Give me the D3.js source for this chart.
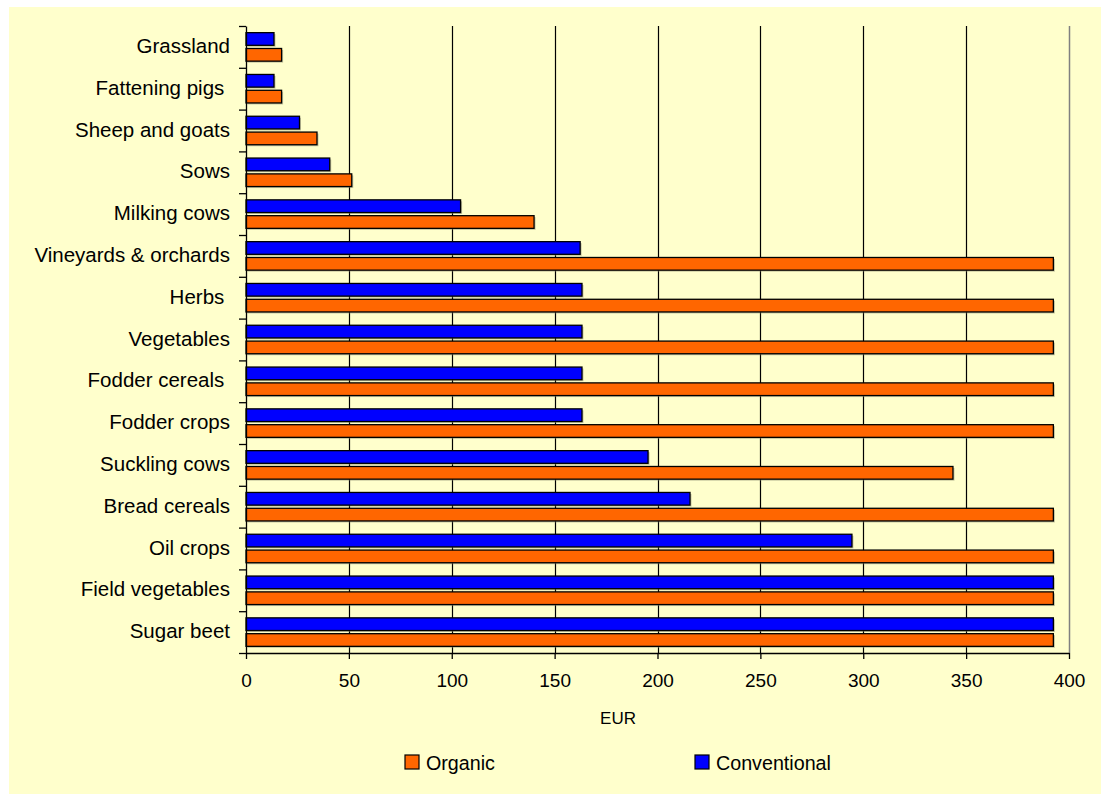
<!DOCTYPE html>
<html>
<head>
<meta charset="utf-8">
<script src="https://cdn.jsdelivr.net/npm/d3@7"></script>
<style>
  html, body { margin: 0; padding: 0; background: #fff; }
  text { font-family: "Liberation Sans", Arial, sans-serif; fill: #000; }
</style>
</head>
<body>
<div id="chart"></div>
<script>
// categories top to bottom (trailing spaces as in the original labels)
const categories = [
  "Grassland", "Fattening pigs ", "Sheep and goats", "Sows", "Milking cows",
  "Vineyards & orchards", "Herbs ", "Vegetables", "Fodder cereals ", "Fodder crops",
  "Suckling cows", "Bread cereals", "Oil crops", "Field vegetables", "Sugar beet"
];
const conventional = [13.6, 13.6, 26, 40.7, 104.3, 162.4, 163.3, 163.3, 163.3, 163.3, 195.4, 215.8, 294.5, 392.4, 392.4];
const organic = [17.3, 17.3, 34.5, 51.4, 140, 392.4, 392.4, 392.4, 392.4, 392.4, 343.6, 392.4, 392.4, 392.4, 392.4];
const xTicks = [0, 50, 100, 150, 200, 250, 300, 350, 400];
const seriesNames = ["Conventional", "Organic"];

const width = 1101, height = 794;
const plot = { left: 246, top: 26, right: 1069, bottom: 653 };

const color = d3.scaleOrdinal()
  .domain(seriesNames)
  .range(["#0000FF", "#FF6600"]);

const svg = d3.select("#chart").append("svg")
  .attr("width", width)
  .attr("height", height);

// chart background
svg.append("rect")
  .attr("x", 9).attr("y", 7)
  .attr("width", width - 9).attr("height", height - 7)
  .attr("fill", "#FFFFCC");

const x = d3.scaleLinear()
  .domain([0, 400])
  .range([plot.left, plot.right]);

const y = d3.scaleBand()
  .domain(categories)
  .range([plot.top, plot.bottom]);

const inner = d3.scaleBand()
  .domain(seriesNames)
  .range([0, y.bandwidth()])
  .paddingInner(0.2)
  .paddingOuter(0.42);

// vertical gridlines
svg.append("g")
  .selectAll("line")
  .data(xTicks.filter(d => d > 0))
  .join("line")
  .attr("x1", d => Math.round(x(d)) + 0.5)
  .attr("x2", d => Math.round(x(d)) + 0.5)
  .attr("y1", plot.top)
  .attr("y2", plot.bottom)
  .attr("stroke", d => d === 400 ? "#808080" : "#000")
  .attr("stroke-width", d => d === 400 ? 1.5 : 1.2);

// bars
const rows = categories.map((c, i) => ({
  cat: c,
  values: [
    { key: "Conventional", value: conventional[i] },
    { key: "Organic", value: organic[i] }
  ]
}));

const groups = svg.append("g")
  .selectAll("g")
  .data(rows)
  .join("g")
  .attr("transform", d => `translate(0,${y(d.cat)})`);

// soft shadow under each bar
groups.selectAll("rect.shadow")
  .data(d => d.values)
  .join("rect")
  .attr("class", "shadow")
  .attr("x", x(0) + 1.5)
  .attr("y", d => inner(d.key) + 1.5)
  .attr("width", d => x(d.value) - x(0))
  .attr("height", inner.bandwidth())
  .attr("fill", "#8a8a70")
  .attr("opacity", 0.5);

groups.selectAll("rect.bar")
  .data(d => d.values)
  .join("rect")
  .attr("class", "bar")
  .attr("x", x(0))
  .attr("y", d => inner(d.key))
  .attr("width", d => x(d.value) - x(0))
  .attr("height", inner.bandwidth())
  .attr("fill", d => color(d.key))
  .attr("stroke", "#000")
  .attr("stroke-width", 1.3);

// left axis: ticks at category boundaries
const yEdges = d3.scaleLinear().domain([0, categories.length]).range([plot.top, plot.bottom]);
svg.append("g")
  .attr("transform", `translate(${plot.left},0)`)
  .call(d3.axisLeft(yEdges).ticks(categories.length).tickSize(7).tickSizeOuter(0).tickFormat(""))
  .call(g => g.selectAll("line, path").attr("stroke", "#000").attr("stroke-width", 1.3));

svg.append("g")
  .selectAll("text")
  .data(categories)
  .join("text")
  .attr("x", plot.left - 16)
  .attr("y", d => y(d) + y.bandwidth() / 2)
  .attr("dy", "0.3em")
  .attr("text-anchor", "end")
  .attr("xml:space", "preserve")
  .style("white-space", "pre")
  .style("font-size", "20.5px")
  .text(d => d);

// bottom axis
svg.append("g")
  .attr("transform", `translate(0,${plot.bottom})`)
  .call(d3.axisBottom(x).tickValues(xTicks).tickSize(6).tickSizeOuter(0).tickPadding(15))
  .call(g => g.selectAll("line, path").attr("stroke", "#000").attr("stroke-width", 1.3))
  .call(g => g.selectAll("text")
    .style("font-family", "\"Liberation Sans\", Arial, sans-serif")
    .style("font-size", "19px")
    .attr("fill", "#000"));

// axis title
svg.append("text")
  .attr("x", 618)
  .attr("y", 724)
  .attr("text-anchor", "middle")
  .style("font-size", "17px")
  .text("EUR");

// legend
const legendItems = [
  { key: "Organic", x: 405 },
  { key: "Conventional", x: 695 }
];
const legend = svg.append("g")
  .selectAll("g")
  .data(legendItems)
  .join("g")
  .attr("transform", d => `translate(${d.x},755)`);

legend.append("rect")
  .attr("width", 14)
  .attr("height", 14)
  .attr("fill", d => color(d.key))
  .attr("stroke", "#000")
  .attr("stroke-width", 1.2);

legend.append("text")
  .attr("x", 21)
  .attr("y", 15)
  .style("font-size", "19.7px")
  .text(d => d.key);
</script>
</body>
</html>
